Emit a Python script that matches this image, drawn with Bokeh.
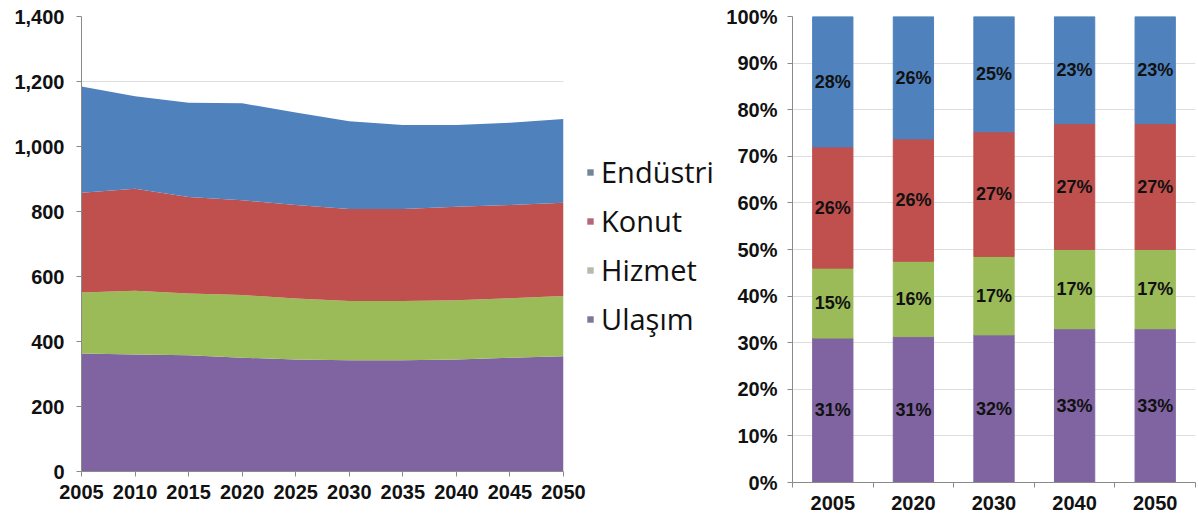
from bokeh.plotting import figure
from bokeh.layouts import row
from bokeh.models import (Range1d, FixedTicker, NumeralTickFormatter, Legend,
                          LegendItem, ColumnDataSource)
from bokeh.embed import file_html
from bokeh.resources import INLINE
from bokeh.core.properties import value

# ---------------- data ----------------
years = [2005, 2010, 2015, 2020, 2025, 2030, 2035, 2040, 2045, 2050]
ulasim = [363, 360, 358, 350, 345, 342, 342, 345, 350, 355]
hizmet = [188, 196, 190, 193, 187, 183, 183, 182, 183, 185]
konut = [307, 314, 297, 292, 288, 283, 283, 288, 287, 287]
endustri = [327, 285, 290, 298, 285, 270, 258, 251, 253, 258]

bar_years = ["2005", "2020", "2030", "2040", "2050"]
pct_ulasim = [31, 31, 32, 33, 33]
pct_hizmet = [15, 16, 17, 17, 17]
pct_konut = [26, 26, 27, 27, 27]
pct_endustri = [28, 26, 25, 23, 23]

series_names = ["Ulaşım", "Hizmet", "Konut", "Endüstri"]
y_ticks_left = [0, 200, 400, 600, 800, 1000, 1200, 1400]
y_ticks_right = [0, 0.1, 0.2, 0.3, 0.4, 0.5, 0.6, 0.7, 0.8, 0.9, 1.0]

colors = ["#8064A2", "#9BBB59", "#C0504D", "#4F81BD"]
legend_swatch_colors = ["#7b7795", "#b5bba8", "#b0687a", "#738597"]

FONT = "Liberation Sans"
LBL_COLOR = "#111111"
AXIS_COLOR = "#8a8a8a"
GRID_COLOR = "#dedede"

# ---------------- left: stacked area ----------------
src = ColumnDataSource(dict(year=years, u=ulasim, h=hizmet, k=konut, e=endustri))

left = figure(frame_width=482, frame_height=455, output_backend="svg", toolbar_location=None,
              x_range=Range1d(years[0], years[-1]), y_range=Range1d(0, 1400),
              min_border_left=81, min_border_right=23, min_border_top=16,
              min_border_bottom=46)
left.varea_stack(stackers=["u", "h", "k", "e"], x="year", color=colors, source=src)

left.outline_line_color = None
left.xgrid.visible = False
left.ygrid.grid_line_color = GRID_COLOR
left.xaxis.ticker = FixedTicker(ticks=years)
left.yaxis.ticker = FixedTicker(ticks=y_ticks_left)
left.yaxis.formatter = NumeralTickFormatter(format="0,0")
for ax in (left.xaxis[0], left.yaxis[0]):
    ax.axis_line_color = AXIS_COLOR
    ax.major_tick_line_color = AXIS_COLOR
    ax.major_tick_out = 5
    ax.major_tick_in = 0
    ax.minor_tick_line_color = None
    ax.major_label_text_font = FONT
    ax.major_label_text_font_style = "bold"
    ax.major_label_text_font_size = "20px"
    ax.major_label_text_color = LBL_COLOR
left.yaxis.major_label_standoff = 12
left.xaxis.major_label_standoff = 8

# ---------------- legend panel ----------------
leg = figure(frame_width=134, frame_height=455, output_backend="svg", toolbar_location=None,
             x_axis_type=None, y_axis_type=None, x_range=Range1d(0, 1), y_range=Range1d(0, 1),
             min_border_left=0, min_border_right=0, min_border_top=16, min_border_bottom=46)
leg.outline_line_color = None
leg.grid.visible = False
# swatch-only renderers (their single degenerate area lies outside the visible range)
leg_rends = [leg.varea(x=[5, 6], y1=[5, 5], y2=[6, 6], fill_color=c, fill_alpha=1)
             for c in legend_swatch_colors]
order = [3, 2, 1, 0]
legend = Legend(items=[LegendItem(label=series_names[i], renderers=[leg_rends[i]]) for i in order],
                location=(0, 133), margin=0, padding=0, spacing=10,
                glyph_width=8, glyph_height=8, label_standoff=7,
                label_text_font="Open Sans", label_text_font_size="29px",
                label_text_color=LBL_COLOR, border_line_color=None,
                background_fill_alpha=0)
leg.add_layout(legend)

# ---------------- right: 100% stacked bars ----------------
xs = [i + 1 for i in range(len(bar_years))]
pcts = [pct_ulasim, pct_hizmet, pct_konut, pct_endustri]
totals = [sum(p[j] for p in pcts) for j in range(len(bar_years))]
fracs = [[p[j] / totals[j] for j in range(len(bar_years))] for p in pcts]

src2 = ColumnDataSource(dict(x=xs, u=fracs[0], h=fracs[1], k=fracs[2], e=fracs[3]))

right = figure(frame_width=403, frame_height=466, output_backend="svg", toolbar_location=None,
               x_range=Range1d(0.5, len(bar_years) + 0.5), y_range=Range1d(0, 1),
               min_border_left=72, min_border_right=2, min_border_top=16,
               min_border_bottom=35)
right.vbar_stack(["u", "h", "k", "e"], x="x", width=0.5, color=colors, source=src2)

lx, ly, lt = [], [], []
for j in range(len(bar_years)):
    base = 0.0
    for s in range(len(pcts)):
        f = fracs[s][j]
        lx.append(xs[j])
        ly.append(base + f / 2)
        lt.append(f"{pcts[s][j]}%")
        base += f
right.text(x="x", y="y", text="t", source=ColumnDataSource(dict(x=lx, y=ly, t=lt)),
           text_align="center", text_baseline="middle", text_font=value(FONT),
           text_font_style="bold", text_font_size="18px", text_color=LBL_COLOR)

right.outline_line_color = None
right.xgrid.visible = False
right.ygrid.grid_line_color = GRID_COLOR
right.yaxis.ticker = FixedTicker(ticks=y_ticks_right)
right.yaxis.formatter = NumeralTickFormatter(format="0%")
right.xaxis.ticker = FixedTicker(ticks=xs, minor_ticks=[x - 0.5 for x in xs] + [xs[-1] + 0.5])
right.xaxis.major_label_overrides = {x: y for x, y in zip(xs, bar_years)}
for ax in (right.xaxis[0], right.yaxis[0]):
    ax.axis_line_color = AXIS_COLOR
    ax.major_tick_line_color = AXIS_COLOR
    ax.major_tick_out = 5
    ax.major_tick_in = 0
    ax.major_label_text_font = FONT
    ax.major_label_text_font_style = "bold"
    ax.major_label_text_font_size = "20px"
    ax.major_label_text_color = LBL_COLOR
right.yaxis.minor_tick_line_color = None
right.xaxis.major_tick_line_color = None
right.xaxis.minor_tick_line_color = AXIS_COLOR
right.xaxis.minor_tick_out = 5
right.xaxis.minor_tick_in = 0
right.yaxis.major_label_standoff = 10
right.xaxis.major_label_standoff = 8

layout = row(left, leg, right)
open("out.html", "w").write(file_html(layout, INLINE))
